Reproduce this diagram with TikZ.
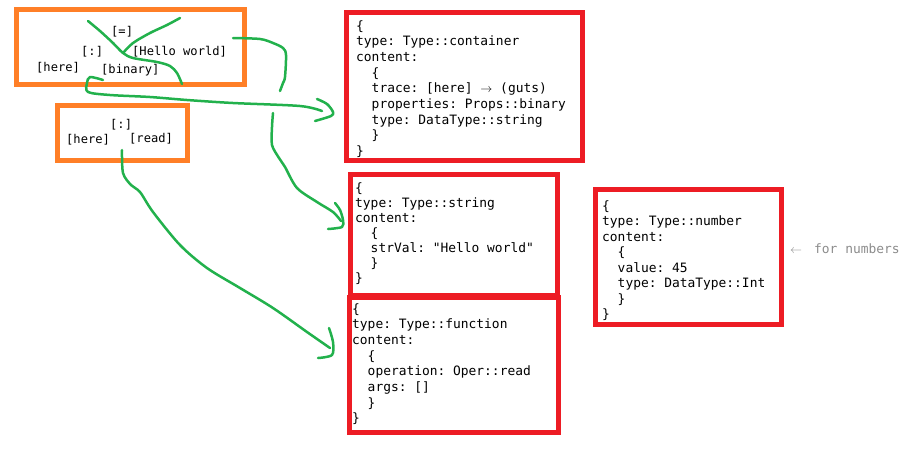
\documentclass[tikz,border=0pt]{standalone}
\usepackage{fontspec}
\setmonofont{DejaVu Sans Mono}
\usetikzlibrary{positioning}
\definecolor{paintred}{RGB}{237,28,36}
\definecolor{paintorange}{RGB}{255,127,39}
\definecolor{paintgreen}{RGB}{34,177,76}
\definecolor{notegray}{RGB}{140,140,140}

\begin{document}
\begin{tikzpicture}[x=1pt,y=-1pt,
	treebox/.style={draw=paintorange,line width=5pt,inner sep=0pt,outer sep=0pt,anchor=north west},
	jsonbox/.style={draw=paintred,line width=5pt,inner sep=0pt,outer sep=0pt,anchor=north west},
	leaf/.style={inner sep=0pt,anchor=base west,font=\ttfamily\fontsize{12.1}{14}\selectfont},
	code/.style={inner sep=0pt,anchor=north west,align=left,font=\ttfamily\fontsize{12.9}{#1}\selectfont},
	code/.default=15.4,
	stroke/.style={draw=paintgreen,line width=2.5pt,line cap=round,line join=round}]
\def\ind{\phantom{xx}}
\useasboundingbox (0,0) rectangle (917,464);

% the two trees
\node[treebox,minimum width=228pt,minimum height=75pt] (treeA) at (16.5,9.5) {};
\node[treebox,minimum width=130pt,minimum height=54.5pt] (treeB) at (57.5,105.5) {};

\node[leaf] (eq) at (111,35) {[=]};
\node[leaf] (colA) at (81,55) {[:]};
\node[leaf] (hello) at (132,55) {[Hello world]};
\node[leaf] (hereA) at (36,71) {[here]};
\node[leaf] (binary) at (101,73) {[binary]};

\node[leaf] (colB) at (110,128) {[:]};
\node[leaf] (hereB) at (66,143) {[here]};
\node[leaf] (read) at (129,142) {[read]};

% the json objects
\node[jsonbox,minimum width=236pt,minimum height=148pt] (cont) at (346.5,12.5) {};
\node[jsonbox,minimum width=207pt,minimum height=120.5pt] (str) at (350.5,174.5) {};
\node[jsonbox,minimum width=209pt,minimum height=135pt] (func) at (349.5,297.5) {};
\node[jsonbox,minimum width=186pt,minimum height=135pt] (num) at (595.5,189.5) {};

\node[code=15.7] (contText) at (356,20) {\{\\type: Type::container\\content:\\
	\ind\{\\\ind trace: [here] $\rightarrow$ (guts)\\\ind properties: Props::binary\\
	\ind type: DataType::string\\\ind\}\\\}};
\node[code=15] (strText) at (355,182) {\{\\type: Type::string\\content:\\
	\ind\{\\\ind strVal: "Hello world"\\\ind\}\\\}};
\node[code=15.7] (funcText) at (352,303) {\{\\type: Type::function\\content:\\
	\ind\{\\\ind operation: Oper::read\\\ind args: []\\\ind\}\\\}};
\node[code=15.5] (numText) at (602,200) {\{\\type: Type::number\\content:\\
	\ind\{\\\ind value: 45\\\ind type: DataType::Int\\\ind\}\\\}};

\node[inner sep=0pt,anchor=base west,text=notegray,font=\ttfamily\fontsize{12.9}{15}\selectfont]
	(note) at (790,253) {\makebox[24pt][l]{$\leftarrow$}for numbers};

% hand drawn strokes
\coordinate (crossA) at (88,21);
\coordinate (crossB) at (180,18);
\coordinate (crossMid) at (123,53);
\draw[stroke] plot[smooth] coordinates {(crossA) (100,31) (113,43) (crossMid) (133,58) (157,62) (170,66) (177,73) (182,84)};
\draw[stroke] plot[smooth] coordinates {(crossB) (167,25) (150,33) (133,43) (crossMid)};

\coordinate (binTail) at (103,80);
\coordinate (contTip) at (322,111);
\draw[stroke] plot[smooth] coordinates {(binTail) (90,77) (87,83) (88,92) (110,95) (150,97) (187,100) (233,103) (300,106) (contTip)};
\draw[stroke] plot[smooth] coordinates {(317,99) (327,104) (333,112) (331,116) (315,121)};

\coordinate (helloTail) at (233,38);
\coordinate (strTip) at (341,221);
\draw[stroke] plot[smooth] coordinates {(helloTail) (260,39) (273,43) (283,48) (286,55) (285,77) (283,83) (280,91)};
\draw[stroke] plot[smooth] coordinates {(273,113) (272,127) (272,145) (279,158) (285,167) (297,188) (317,202) (333,212) (strTip)};
\draw[stroke] plot[smooth] coordinates {(335,203) (340,210) (343,220) (342,227) (328,229)};

\coordinate (readTail) at (122,150);
\coordinate (funcTip) at (330,348);
\draw[stroke] plot[smooth] coordinates {(readTail) (123,173) (131,185) (140,192) (153,212) (180,245) (207,268) (240,288) (273,308) (307,332) (funcTip)};
\draw[stroke] plot[smooth] coordinates {(329,328) (333,342) (332,355) (318,358)};

\end{tikzpicture}
\end{document}
